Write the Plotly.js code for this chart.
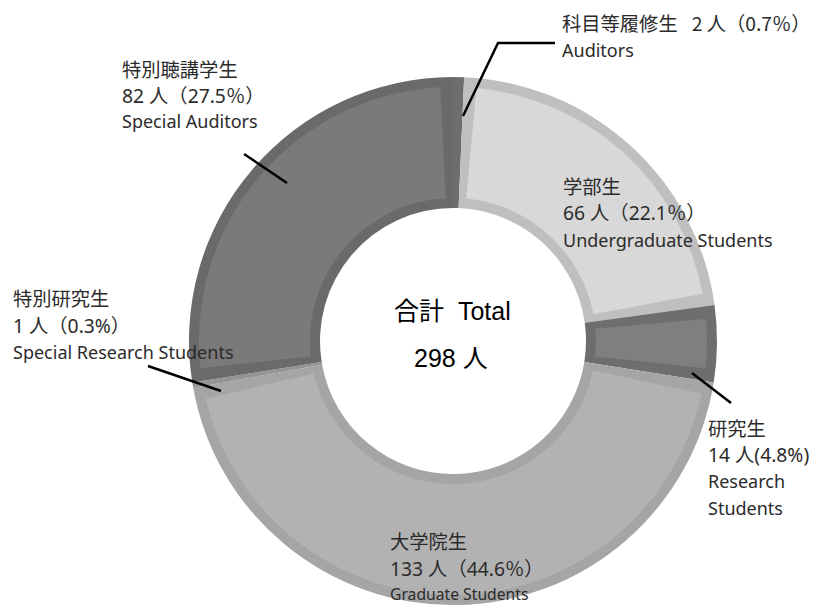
<!DOCTYPE html>
<html>
<head>
<meta charset="utf-8">
<script src="https://cdn.plot.ly/plotly-3.0.1.min.js"></script>
<style>html,body{margin:0;padding:0;background:#fff;}#chart{width:835px;height:608px;}</style>
</head>
<body>
<div id="chart"></div>
<script>
// ---- data ----
const categories = ['科目等履修生', '学部生', '研究生', '大学院生', '特別研究生', '特別聴講学生'];
const values = [2, 66, 14, 133, 1, 82];
const labelLines = [
  ['科目等履修生\u2002 2 人（0.7％）', 'Auditors'],
  ['学部生', '66 人（22.1％）', 'Undergraduate Students'],
  ['研究生', '14 人(4.8%)', 'Research', 'Students'],
  ['大学院生', '133 人（44.6％）', 'Graduate Students'],
  ['特別研究生', '1 人（0.3%）', 'Special Research Students'],
  ['特別聴講学生', '82 人（27.5％）', 'Special Auditors']
];
const totalLines = ['合計  Total', '298 人'];

// ---- styles ----
const fillColors   = ['#727272', '#d8d8d8', '#7f7f7f', '#b2b2b2', '#9a9a9a', '#7a7a7a'];
const borderColors = ['#6e6e6e', '#bfbfbf', '#6e6e6e', '#a5a5a5', '#959595', '#6a6a6a'];

const W = 835, H = 608;
const CX = 453, CY = 341, R = 264, RH = 133, B = 10;
const px = x => x / W;
const py = y => 1 - y / H;
function dom(r) {
  return { x: [px(CX - r), px(CX + r)], y: [py(CY + r), py(CY - r)] };
}

const total = values.reduce((a, b) => a + b, 0);
// angular gap (in value units) giving a border of about B px at mid radius
const rMid = ((R - B) + (RH + B)) / 2;
const gapVal = (B / rMid) / (2 * Math.PI) * total;

const outer = {
  type: 'pie', values: values, labels: categories,
  sort: false, direction: 'clockwise', rotation: 0,
  hole: RH / R, domain: dom(R),
  marker: { colors: borderColors, line: { width: 0 } },
  textinfo: 'none', hoverinfo: 'skip', showlegend: false
};

const innerVals = [], innerLabels = [], innerCols = [];
values.forEach((v, i) => {
  if (v <= 2 * gapVal) {
    innerVals.push(v); innerLabels.push('t' + i); innerCols.push('rgba(0,0,0,0)');
  } else {
    innerVals.push(gapVal, v - 2 * gapVal, gapVal);
    innerLabels.push('a' + i, 'f' + i, 'b' + i);
    innerCols.push('rgba(0,0,0,0)', fillColors[i], 'rgba(0,0,0,0)');
  }
});
const inner = {
  type: 'pie', values: innerVals, labels: innerLabels,
  sort: false, direction: 'clockwise', rotation: 0,
  hole: (RH + B) / (R - B), domain: dom(R - B),
  marker: { colors: innerCols, line: { width: 0 } },
  textinfo: 'none', hoverinfo: 'skip', showlegend: false
};

const txtColor = '#2b2b2b';
const jp = 'Noto Sans CJK JP, sans-serif';
const mixed = 'Noto Sans, Noto Sans CJK JP, sans-serif';
const big = { family: jp, size: 19.3, color: txtColor };
const num = { family: mixed, size: 19.3, color: txtColor };
const small = { family: mixed, size: 18, color: txtColor };
const tiny = { family: mixed, size: 15.7, color: txtColor };

// label placement: [left x, [line centre y...], fonts]
const placements = [
  [560, [23, 50], [big, small]],
  [561, [186, 213, 240], [big, num, small]],
  [706, [428, 454, 481, 508], [big, num, small, small]],
  [388, [541, 568, 594], [big, num, tiny]],
  [11, [298, 325, 352], [big, num, small]],
  [120, [69, 95, 121], [big, num, small]]
];

const annotations = [];
labelLines.forEach((lines, i) => {
  const [x0, ys, fonts] = placements[i];
  lines.forEach((t, j) => {
    annotations.push({
      xref: 'paper', yref: 'paper', x: px(x0), y: py(ys[j]),
      xanchor: 'left', yanchor: 'middle', showarrow: false,
      text: t, font: fonts[j]
    });
  });
});
const centerFont = { family: 'Liberation Sans, Noto Sans CJK JP, sans-serif', size: 25, color: '#000' };
annotations.push({ xref: 'paper', yref: 'paper', x: px(452), y: py(311), xanchor: 'center', yanchor: 'middle', showarrow: false, text: totalLines[0], font: centerFont });
annotations.push({ xref: 'paper', yref: 'paper', x: px(451), y: py(358), xanchor: 'center', yanchor: 'middle', showarrow: false, text: totalLines[1], font: centerFont });

function pth(pts) {
  return pts.map((p, k) => (k ? 'L' : 'M') + px(p[0]) + ',' + py(p[1])).join(' ');
}
const lineStyle = { color: '#000', width: 2.5 };
const shapes = [
  { type: 'path', xref: 'paper', yref: 'paper', path: pth([[463, 116], [498, 43], [555, 43]]), line: lineStyle },
  { type: 'path', xref: 'paper', yref: 'paper', path: pth([[244, 154], [287, 183]]), line: lineStyle },
  { type: 'path', xref: 'paper', yref: 'paper', path: pth([[148, 366], [221, 391]]), line: lineStyle },
  { type: 'path', xref: 'paper', yref: 'paper', path: pth([[692, 373], [731, 403]]), line: lineStyle }
];

Plotly.newPlot('chart', [outer, inner], {
  width: W, height: H,
  margin: { l: 0, r: 0, t: 0, b: 0 },
  paper_bgcolor: '#fff', plot_bgcolor: '#fff',
  showlegend: false,
  annotations: annotations, shapes: shapes
}, { staticPlot: true, displayModeBar: false });
</script>
</body>
</html>
